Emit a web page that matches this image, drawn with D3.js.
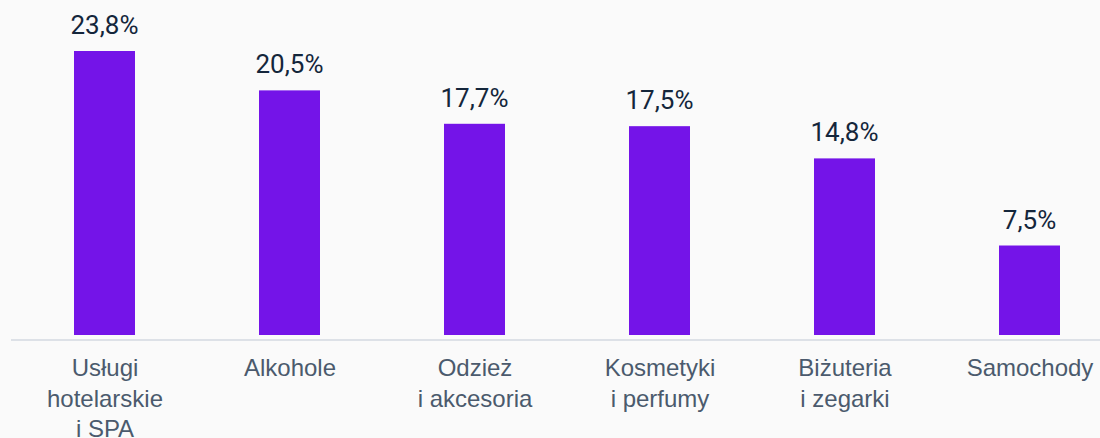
<!DOCTYPE html>
<html>
<head>
<meta charset="utf-8">
<script src="https://cdn.jsdelivr.net/npm/d3@7"></script>
<style>
  html, body { margin: 0; padding: 0; background: #fafafa; }
  svg { display: block; font-family: Roboto, "Noto Sans", sans-serif; }
</style>
</head>
<body>
<svg id="chart" width="1100" height="438"></svg>
<script>
// Chart data.
const categories = ["Usługi hotelarskie i SPA", "Alkohole", "Odzież i akcesoria", "Kosmetyki i perfumy", "Biżuteria i zegarki", "Samochody"];
const categoryLines = [["Usługi", "hotelarskie", "i SPA"], ["Alkohole"], ["Odzież", "i akcesoria"], ["Kosmetyki", "i perfumy"], ["Biżuteria", "i zegarki"], ["Samochody"]];
const values = [23.8, 20.5, 17.7, 17.5, 14.8, 7.5];
const valueLabels = ["23,8%", "20,5%", "17,7%", "17,5%", "14,8%", "7,5%"];

const width = 1100;
const baseY = 335;
const barWidth = 61;

const svg = d3.select("#chart");

const x = d3.scalePoint().domain(categories).range([12, 1122]).padding(0.5);
const y = d3.scaleLinear().domain([0, d3.max(values)]).range([baseY, 51]);

// Bars.
svg.append("g")
  .selectAll("rect")
  .data(categories)
  .join("rect")
  .attr("x", (d) => x(d) - barWidth / 2)
  .attr("y", (d, i) => y(values[i]))
  .attr("width", barWidth)
  .attr("height", (d, i) => baseY - y(values[i]))
  .attr("fill", "#7414e8");

// Value labels above bars.
svg.append("g")
  .selectAll("text")
  .data(categories)
  .join("text")
  .attr("x", (d) => x(d))
  .attr("y", (d, i) => y(values[i]) - 17)
  .attr("text-anchor", "middle")
  .attr("fill", "#14263b")
  .style("font-size", "26px")
  .text((d, i) => valueLabels[i]);

// Bottom axis with wrapped category labels.
const axis = svg.append("g")
  .attr("transform", `translate(0,340)`)
  .call(d3.axisBottom(x).tickSize(0).tickFormat(""));

axis.select(".domain")
  .attr("d", `M11,0H${width}`)
  .attr("stroke", "#dde1e7")
  .attr("stroke-width", 2);

axis.selectAll(".tick text").remove();
axis.selectAll(".tick")
  .append("text")
  .attr("text-anchor", "middle")
  .attr("fill", "#4b5a6d")
  .style("font-size", "24px")
  .each(function (d, i) {
    const t = d3.select(this);
    categoryLines[i].forEach((line, j) => {
      t.append("tspan")
        .attr("x", 0)
        .attr("y", 36 + j * 30.7)
        .text(line);
    });
  });
</script>
</body>
</html>
